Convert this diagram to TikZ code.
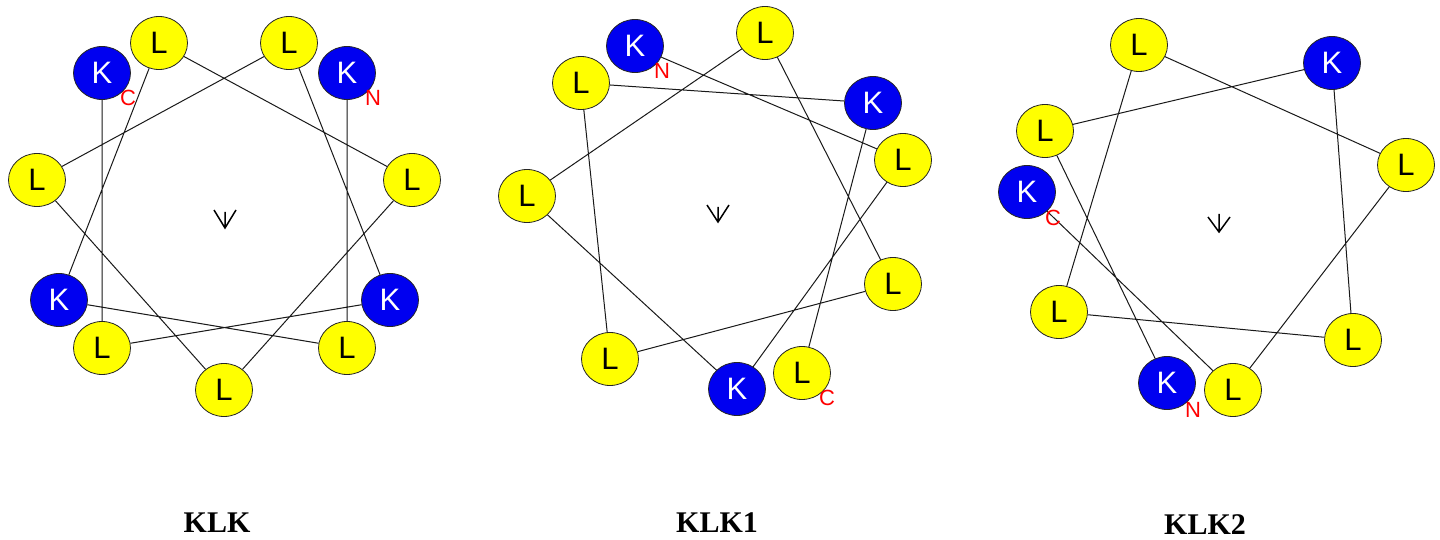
\documentclass[tikz,border=0pt]{standalone}
\usepackage{fontspec}
\setmainfont{Liberation Serif}
\setsansfont{Liberation Sans}
\usetikzlibrary{shapes.geometric}
\definecolor{resblue}{RGB}{0,0,240}
\definecolor{resyellow}{RGB}{255,255,0}
\tikzset{
  res/.style={ellipse, draw=black!85, line width=0.8pt, minimum width=57pt, minimum height=53pt, inner sep=0pt, font=\fontsize{31}{31}\selectfont\sffamily},
  kres/.style={res, fill=resblue, text=white},
  lres/.style={res, fill=resyellow, text=black},
  term/.style={text=red, font=\fontsize{22}{22}\selectfont\sffamily, inner sep=0pt},
  conn/.style={line width=1pt, black!90},
  dirmark/.style={line width=1.5pt},
  title/.style={font=\fontsize{30}{30}\selectfont\bfseries, inner sep=0pt}
}
\begin{document}
\begin{tikzpicture}[x=1pt,y=-1pt]
\useasboundingbox (0,0) rectangle (1440,540);
% ---------- Panel 1: KLK ----------
\node[kres] (a1) at (347,73) {K};
\node[lres] (a2) at (347,348) {L};
\node[kres] (a3) at (59,300) {K};
\node[lres] (a4) at (159,43) {L};
\node[lres] (a5) at (412,180) {L};
\node[lres] (a6) at (224,390) {L};
\node[lres] (a7) at (37,180) {L};
\node[lres] (a8) at (289,43) {L};
\node[kres] (a9) at (390,300) {K};
\node[lres] (a10) at (102,348) {L};
\node[kres] (a11) at (102,73) {K};
\draw[conn] (a1)--(a2) (a2)--(a3) (a3)--(a4) (a4)--(a5) (a5)--(a6) (a6)--(a7) (a7)--(a8) (a8)--(a9) (a9)--(a10) (a10)--(a11);
\node[term] (aN) at (373,98) {N};
\node[term] (aC) at (128,98) {C};
\coordinate (aw1) at (214,210);
\coordinate (aw2) at (236,210);
\coordinate (at) at (225,228);
\coordinate (as) at (225,212);
\draw[dirmark] (aw1)--(at)--(aw2) (as)--(at);
\node[title] (atitle) at (217,523) {KLK};
% ---------- Panel 2: KLK1 ----------
\node[kres] (b1) at (635,46) {K};
\node[lres] (b2) at (903,160) {L};
\node[kres] (b3) at (737,389) {K};
\node[lres] (b4) at (527,196) {L};
\node[lres] (b5) at (765,33) {L};
\node[lres] (b6) at (893,284) {L};
\node[lres] (b7) at (610,359) {L};
\node[lres] (b8) at (581,83) {L};
\node[kres] (b9) at (873,103) {K};
\node[lres] (b10) at (802,373) {L};
\draw[conn] (b1)--(b2) (b2)--(b3) (b3)--(b4) (b4)--(b5) (b5)--(b6) (b6)--(b7) (b7)--(b8) (b8)--(b9) (b9)--(b10);
\node[term] (bN) at (662,71) {N};
\node[term] (bC) at (827,398) {C};
\coordinate (bw1) at (707,205);
\coordinate (bw2) at (729,205);
\coordinate (bt) at (718,222);
\coordinate (bs) at (718,207);
\draw[dirmark] (bw1)--(bt)--(bw2) (bs)--(bt);
\node[title] (btitle) at (717,523) {KLK1};
% ---------- Panel 3: KLK2 ----------
\node[kres] (c1) at (1167,383) {K};
\node[lres] (c2) at (1045,131) {L};
\node[kres] (c3) at (1332,63) {K};
\node[lres] (c4) at (1353,340) {L};
\node[lres] (c5) at (1059,312) {L};
\node[lres] (c6) at (1139,45) {L};
\node[lres] (c7) at (1406,165) {L};
\node[lres] (c8) at (1233,390) {L};
\node[kres] (c9) at (1027,192) {K};
\draw[conn] (c1)--(c2) (c2)--(c3) (c3)--(c4) (c4)--(c5) (c5)--(c6) (c6)--(c7) (c7)--(c8) (c8)--(c9);
\node[term] (cN) at (1193,410) {N};
\node[term] (cC) at (1053,218) {C};
\coordinate (cw1) at (1208,217);
\coordinate (cw2) at (1230,217);
\coordinate (ct) at (1219,232);
\coordinate (cs) at (1219,214);
\draw[dirmark] (cw1)--(ct)--(cw2) (cs)--(ct);
\node[title] (ctitle) at (1205,525) {KLK2};
\end{tikzpicture}
\end{document}
